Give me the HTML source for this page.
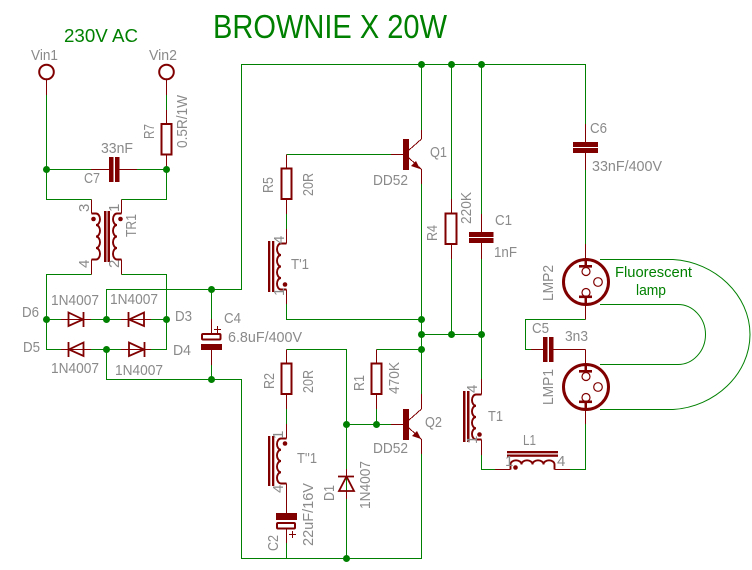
<!DOCTYPE html>
<html>
<head>
<meta charset="utf-8">
<style>
html,body{margin:0;padding:0;background:#fff;}
svg{display:block;}
text{font-family:"Liberation Sans",sans-serif;font-size:15px;fill:#8a8a8a;}
.g{stroke:#008000;stroke-width:1;fill:none;shape-rendering:crispEdges;}
.m{stroke:#800000;stroke-width:1;fill:none;shape-rendering:crispEdges;}
.t{stroke:#800000;stroke-width:2;fill:none;}
.c{stroke:#800000;stroke-width:1.9;fill:none;}
.s{fill:#800000;stroke:none;}
.j{fill:#008000;stroke:none;}
.gt{fill:#008000;}
</style>
</head>
<body>
<svg xmlns="http://www.w3.org/2000/svg" width="752" height="570" viewBox="0 0 752 570">
<!-- green wires -->
<path class="g" d="M46.5 95V199.5H91.5M46.5 169.5H91M137 169.5H166.5M166.5 95V110M166.5 169.5V199.5H121.5
M91.5 274.5H46.5V349.5H61M46.5 319.5H61M91 319.5H121M151 319.5H166.5V274.5H121.5M151 349.5H166.5V319.5M91 349.5H121
M106.5 319.5V289.5H241.5V64.5H585.5V124M211.5 289.5V319M211.5 365V379.5M106.5 349.5V379.5H241.5V558.5H421.5V454
M421.5 64.5V130M451.5 64.5V199M481.5 64.5V214M421.5 184V349.5M421.5 334.5H481.5M451.5 259V334.5M481.5 259V379
M286.5 154.5H391M286.5 214V229M286.5 304V319.5H421.5
M286.5 349.5H346.5V558.5M346.5 424.5H391M376.5 349.5H421.5V394M376.5 409V424.5
M286.5 409V424M286.5 543V558.5
M481.5 454V469.5H495M570 469.5H585.5V424M585.5 170V244
M585.5 319.5H525.5V349.5H531"/>
<!-- maroon leads -->
<path class="m" d="M46.5 80V95M166.5 80V95M166.5 110V124M166.5 154V169.5M91 169.5H109M119 169.5H137
M91.5 199.5V213.5M121.5 199.5V213.5M91.5 259.5V274.5M121.5 259.5V274.5
M61 319.5H91M121 319.5H151M61 349.5H91M121 349.5H151M211.5 319V334M211.5 350V365
M286.5 154.5V168M286.5 199V214M286.5 229V243.5M286.5 289.5V304
M391 154.5H403M421.5 130V139M409 150L421.5 139M409 158L421.5 169.5V184
M451.5 199V213M451.5 244V259M481.5 214V232M481.5 242V259
M585.5 124V142M585.5 152V170M585.5 244V260M585.5 304V319.5M585.5 349.5V365M585.5 409V424
M531 349.5H543M553 349.5H585.5
M286.5 349.5V363M286.5 394V409M286.5 424V438.5M286.5 483.5V513M286.5 528V543
M376.5 349.5V363M376.5 394V409
M391 424.5H403M421.5 394V409M409 420L421.5 409M409 428L421.5 439.5V454
M346.5 469V476M346.5 491V499
M481.5 379V394.5M481.5 439.5V455M495 469.5H510.5M554.5 469.5H570"/>
<!-- vin -->
<circle class="t" cx="46.5" cy="72" r="7.3"/>
<circle class="t" cx="166.5" cy="72" r="7.3"/>
<!-- resistors -->
<rect class="t" x="161.5" y="124" width="10" height="30.5"/>
<rect class="t" x="281.5" y="168.5" width="10" height="30.5"/>
<rect class="t" x="445.5" y="213.5" width="11" height="30.5"/>
<rect class="t" x="281.5" y="363.5" width="10" height="30.5"/>
<rect class="t" x="371.5" y="363.5" width="10" height="30.5"/>
<!-- caps -->
<rect class="s" x="109" y="157" width="4.5" height="25"/>
<rect class="s" x="115" y="157" width="4.5" height="25"/>
<rect class="s" x="469" y="232" width="24.5" height="5"/>
<rect class="s" x="469" y="238" width="24.5" height="5"/>
<rect class="s" x="573" y="142" width="25" height="5"/>
<rect class="s" x="573" y="148" width="25" height="5"/>
<rect class="s" x="543" y="337" width="4.5" height="25"/>
<rect class="s" x="549" y="337" width="4.5" height="25"/>
<!-- C4 -->
<rect class="t" x="202" y="334" width="18.5" height="5.5" rx="1"/>
<rect class="s" x="201" y="344" width="21" height="6"/>
<path class="m" d="M214 329.5H221M217.5 326V333"/>
<!-- C2 -->
<rect class="s" x="276" y="513" width="21" height="7"/>
<rect class="t" x="277" y="523" width="18" height="5.5" rx="1"/>
<path class="m" d="M289 534.5H296M292.5 531V538"/>
<!-- TR1 -->
<path class="c" d="M91.5 213.5H96a4 5.75 0 0 1 0 11.5a4 5.75 0 0 1 0 11.5a4 5.75 0 0 1 0 11.5a4 5.75 0 0 1 0 11.5H91.5"/>
<path class="c" d="M121.5 213.5H117a4 5.75 0 0 0 0 11.5a4 5.75 0 0 0 0 11.5a4 5.75 0 0 0 0 11.5a4 5.75 0 0 0 0 11.5H121.5"/>
<rect class="s" x="104" y="211" width="2.5" height="51"/>
<rect class="s" x="107.5" y="211" width="2.5" height="51"/>
<circle class="s" cx="93.5" cy="219" r="2.3"/>
<circle class="s" cx="120.5" cy="219" r="2.3"/>
<!-- T'1 -->
<path class="c" d="M286.5 243.5H281a4 5.75 0 0 0 0 11.5a4 5.75 0 0 0 0 11.5a4 5.75 0 0 0 0 11.5a4 5.75 0 0 0 0 11.5H286.5"/>
<rect class="s" x="268" y="241" width="2.3" height="51"/>
<rect class="s" x="272" y="241" width="2.3" height="51"/>
<circle class="s" cx="285" cy="284.5" r="2.3"/>
<!-- T''1 -->
<path class="c" d="M286.5 438.5H281a4 5.6 0 0 0 0 11.25a4 5.6 0 0 0 0 11.25a4 5.6 0 0 0 0 11.25a4 5.6 0 0 0 0 11.25H286.5"/>
<rect class="s" x="268" y="436" width="2.3" height="50"/>
<rect class="s" x="272" y="436" width="2.3" height="50"/>
<circle class="s" cx="285" cy="443.5" r="2.3"/>
<!-- T1 -->
<path class="c" d="M481.5 394.5H476a4 5.6 0 0 0 0 11.25a4 5.6 0 0 0 0 11.25a4 5.6 0 0 0 0 11.25a4 5.6 0 0 0 0 11.25H481.5"/>
<rect class="s" x="463" y="391" width="2.5" height="51"/>
<rect class="s" x="467" y="391" width="2.5" height="51"/>
<circle class="s" cx="479.5" cy="434.5" r="2.3"/>
<!-- L1 -->
<path class="c" d="M510.5 469.5V464.5a5.5 4.2 0 0 1 11 0a5.5 4.2 0 0 1 11 0a5.5 4.2 0 0 1 11 0a5.5 4.2 0 0 1 11 0V469.5"/>
<rect class="s" x="507" y="451" width="51" height="2.3"/>
<rect class="s" x="507" y="454.5" width="51" height="2.3"/>
<circle class="s" cx="515.5" cy="467.5" r="2.3"/>
<!-- diodes -->
<path class="t" style="stroke-width:1.8" d="M68.5 312.5V326L83 319.5ZM83.5 312V327"/>
<path class="t" style="stroke-width:1.8" d="M144 312.5V326L129 319.5ZM128.5 312V327"/>
<path class="t" style="stroke-width:1.8" d="M83.5 342.5V356L69 349.5ZM68.5 342V357"/>
<path class="t" style="stroke-width:1.8" d="M129 342.5V356L144 349.5ZM144.5 342V357"/>
<path class="t" style="stroke-width:1.8" d="M346.5 476.5L339 491H354ZM338 476.5H354"/>
<!-- transistors -->
<rect class="s" x="403" y="139" width="6" height="31"/>
<rect class="s" x="403" y="409" width="6" height="31"/>
<polygon class="s" points="420,169 411,166 416,161"/>
<polygon class="s" points="421,439 412,436 417,431"/>
<!-- lamps -->
<circle cx="586" cy="282" r="22.5" fill="none" stroke="#800000" stroke-width="3"/>
<circle cx="586" cy="387" r="22.5" fill="none" stroke="#800000" stroke-width="3"/>
<g fill="none" stroke="#800000" stroke-width="1.2">
<circle cx="586" cy="271.5" r="4"/><circle cx="598" cy="282" r="4.3"/><circle cx="586" cy="292.5" r="4"/>
<circle cx="586" cy="376.5" r="4"/><circle cx="598" cy="387" r="4.3"/><circle cx="586" cy="397.5" r="4"/>
</g>
<g class="s">
<rect x="579" y="265" width="13" height="2.6"/><rect x="584.5" y="259" width="2.5" height="7"/>
<rect x="579" y="295.5" width="13" height="2.6"/><rect x="584.5" y="297" width="2.5" height="8"/>
<rect x="579" y="370" width="13" height="2.6"/><rect x="584.5" y="364" width="2.5" height="7"/>
<rect x="579" y="400.5" width="13" height="2.6"/><rect x="584.5" y="402" width="2.5" height="8"/>
</g>
<!-- tube -->
<path d="M600 259.5H673C715 262 750 295 750 334.5C750 374 715 407 673 409.5H600" fill="none" stroke="#008000" stroke-width="1"/>
<path d="M600 304.5H678C693 304.5 705.5 318 705.5 334.5C705.5 351 693 364.5 678 364.5H600" fill="none" stroke="#008000" stroke-width="1"/>
<!-- junctions -->
<g class="j">
<circle cx="46.5" cy="169.5" r="3.5"/><circle cx="166.5" cy="169.5" r="3.5"/>
<circle cx="46.5" cy="319.5" r="3.5"/><circle cx="106.5" cy="319.5" r="3.5"/><circle cx="166.5" cy="319.5" r="3.5"/><circle cx="106.5" cy="349.5" r="3.5"/>
<circle cx="211.5" cy="289.5" r="3.5"/><circle cx="211.5" cy="379.5" r="3.5"/>
<circle cx="421.5" cy="64.5" r="3.5"/><circle cx="451.5" cy="64.5" r="3.5"/><circle cx="481.5" cy="64.5" r="3.5"/>
<circle cx="421.5" cy="319.5" r="3.5"/><circle cx="421.5" cy="334.5" r="3.5"/><circle cx="451.5" cy="334.5" r="3.5"/><circle cx="481.5" cy="334.5" r="3.5"/>
<circle cx="421.5" cy="349.5" r="3.5"/><circle cx="346.5" cy="424.5" r="3.5"/><circle cx="376.5" cy="424.5" r="3.5"/><circle cx="346.5" cy="558.5" r="3.5"/>
</g>
<!-- green text -->
<text class="gt" x="213" y="38" style="font-size:33px" textLength="234" lengthAdjust="spacingAndGlyphs">BROWNIE X 20W</text>
<text class="gt" x="64" y="42" style="font-size:18.5px" textLength="74" lengthAdjust="spacingAndGlyphs">230V AC</text>
<text class="gt" x="615" y="277" textLength="77" lengthAdjust="spacingAndGlyphs">Fluorescent</text>
<text class="gt" x="636" y="295" textLength="30" lengthAdjust="spacingAndGlyphs">lamp</text>
<!-- horizontal labels -->
<text x="31" y="60" textLength="27" lengthAdjust="spacingAndGlyphs">Vin1</text>
<text x="149" y="60" textLength="28" lengthAdjust="spacingAndGlyphs">Vin2</text>
<text x="101" y="153" textLength="32" lengthAdjust="spacingAndGlyphs">33nF</text>
<text x="84" y="183" textLength="16" lengthAdjust="spacingAndGlyphs">C7</text>
<text x="51" y="305" textLength="48" lengthAdjust="spacingAndGlyphs">1N4007</text>
<text x="110" y="304" textLength="48" lengthAdjust="spacingAndGlyphs">1N4007</text>
<text x="51" y="373" textLength="48" lengthAdjust="spacingAndGlyphs">1N4007</text>
<text x="115" y="375" textLength="48" lengthAdjust="spacingAndGlyphs">1N4007</text>
<text x="22" y="317" textLength="17" lengthAdjust="spacingAndGlyphs">D6</text>
<text x="175" y="321" textLength="17" lengthAdjust="spacingAndGlyphs">D3</text>
<text x="23" y="352" textLength="17" lengthAdjust="spacingAndGlyphs">D5</text>
<text x="173" y="355" textLength="18" lengthAdjust="spacingAndGlyphs">D4</text>
<text x="224" y="323" textLength="17" lengthAdjust="spacingAndGlyphs">C4</text>
<text x="228" y="342" textLength="74" lengthAdjust="spacingAndGlyphs">6.8uF/400V</text>
<text x="430" y="157" textLength="17" lengthAdjust="spacingAndGlyphs">Q1</text>
<text x="373" y="185" textLength="35" lengthAdjust="spacingAndGlyphs">DD52</text>
<text x="291" y="269" textLength="18" lengthAdjust="spacingAndGlyphs">T'1</text>
<text x="495" y="225" textLength="17" lengthAdjust="spacingAndGlyphs">C1</text>
<text x="494" y="257" textLength="23" lengthAdjust="spacingAndGlyphs">1nF</text>
<text x="590" y="133" textLength="17" lengthAdjust="spacingAndGlyphs">C6</text>
<text x="592" y="171" textLength="70" lengthAdjust="spacingAndGlyphs">33nF/400V</text>
<text x="532" y="333" textLength="17" lengthAdjust="spacingAndGlyphs">C5</text>
<text x="565" y="341" textLength="23" lengthAdjust="spacingAndGlyphs">3n3</text>
<text x="425" y="427" textLength="17" lengthAdjust="spacingAndGlyphs">Q2</text>
<text x="373" y="453" textLength="35" lengthAdjust="spacingAndGlyphs">DD52</text>
<text x="297" y="463" textLength="20" lengthAdjust="spacingAndGlyphs">T''1</text>
<text x="488" y="421" textLength="15" lengthAdjust="spacingAndGlyphs">T1</text>
<text x="523" y="445" textLength="13" lengthAdjust="spacingAndGlyphs">L1</text>
<text x="505" y="466">1</text>
<text x="557" y="466">4</text>
<!-- rotated labels -->
<text transform="translate(154 139) rotate(-90)" textLength="15" lengthAdjust="spacingAndGlyphs">R7</text>
<text transform="translate(187 148) rotate(-90)" textLength="53" lengthAdjust="spacingAndGlyphs">0.5R/1W</text>
<text transform="translate(89 212) rotate(-90)">3</text>
<text transform="translate(119 212) rotate(-90)">1</text>
<text transform="translate(89 268) rotate(-90)">4</text>
<text transform="translate(119 268) rotate(-90)">2</text>
<text transform="translate(136 237) rotate(-90)" textLength="23" lengthAdjust="spacingAndGlyphs">TR1</text>
<text transform="translate(273 193) rotate(-90)" textLength="16" lengthAdjust="spacingAndGlyphs">R5</text>
<text transform="translate(313 196) rotate(-90)" textLength="23" lengthAdjust="spacingAndGlyphs">20R</text>
<text transform="translate(284 244) rotate(-90)">4</text>
<text transform="translate(284 296) rotate(-90)">1</text>
<text transform="translate(437 241) rotate(-90)" textLength="16" lengthAdjust="spacingAndGlyphs">R4</text>
<text transform="translate(471 224) rotate(-90)" textLength="32" lengthAdjust="spacingAndGlyphs">220K</text>
<text transform="translate(553 301) rotate(-90)" textLength="36" lengthAdjust="spacingAndGlyphs">LMP2</text>
<text transform="translate(553 405) rotate(-90)" textLength="36" lengthAdjust="spacingAndGlyphs">LMP1</text>
<text transform="translate(274 389) rotate(-90)" textLength="16" lengthAdjust="spacingAndGlyphs">R2</text>
<text transform="translate(313 393) rotate(-90)" textLength="23" lengthAdjust="spacingAndGlyphs">20R</text>
<text transform="translate(364 391) rotate(-90)" textLength="16" lengthAdjust="spacingAndGlyphs">R1</text>
<text transform="translate(399 394) rotate(-90)" textLength="32" lengthAdjust="spacingAndGlyphs">470K</text>
<text transform="translate(283 439) rotate(-90)">1</text>
<text transform="translate(283 493) rotate(-90)">4</text>
<text transform="translate(313 546) rotate(-90)" textLength="63" lengthAdjust="spacingAndGlyphs">22uF/16V</text>
<text transform="translate(278 551) rotate(-90)" textLength="16" lengthAdjust="spacingAndGlyphs">C2</text>
<text transform="translate(334 501) rotate(-90)" textLength="16" lengthAdjust="spacingAndGlyphs">D1</text>
<text transform="translate(370 509) rotate(-90)" textLength="48" lengthAdjust="spacingAndGlyphs">1N4007</text>
<text transform="translate(477 393) rotate(-90)">4</text>
<text transform="translate(477 444) rotate(-90)">1</text>
</svg>
</body>
</html>
